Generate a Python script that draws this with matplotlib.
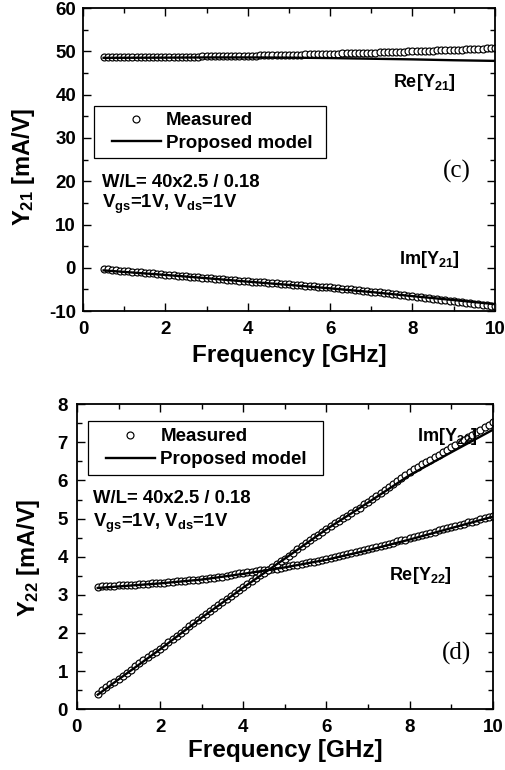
import matplotlib
matplotlib.use("Agg")
import matplotlib.pyplot as plt
from matplotlib.ticker import MultipleLocator
from matplotlib.lines import Line2D
from matplotlib.patches import Rectangle

plt.rcParams['font.family'] = ['Liberation Sans', 'DejaVu Sans']
plt.rcParams['font.weight'] = 'bold'
plt.rcParams['mathtext.fontset'] = 'custom'
plt.rcParams['mathtext.bf'] = 'Liberation Sans:bold'
plt.rcParams['mathtext.rm'] = 'Liberation Sans:bold'
plt.rcParams['mathtext.default'] = 'bf'
plt.rcParams['axes.unicode_minus'] = False

# ---------------- data ----------------
freq = [0.5, 0.6, 0.7, 0.8, 0.9,
        1.0, 1.1, 1.2, 1.3, 1.4, 1.5, 1.6, 1.7, 1.8, 1.9,
        2.0, 2.1, 2.2, 2.3, 2.4, 2.5, 2.6, 2.7, 2.8, 2.9,
        3.0, 3.1, 3.2, 3.3, 3.4, 3.5, 3.6, 3.7, 3.8, 3.9,
        4.0, 4.1, 4.2, 4.3, 4.4, 4.5, 4.6, 4.7, 4.8, 4.9,
        5.0, 5.1, 5.2, 5.3, 5.4, 5.5, 5.6, 5.7, 5.8, 5.9,
        6.0, 6.1, 6.2, 6.3, 6.4, 6.5, 6.6, 6.7, 6.8, 6.9,
        7.0, 7.1, 7.2, 7.3, 7.4, 7.5, 7.6, 7.7, 7.8, 7.9,
        8.0, 8.1, 8.2, 8.3, 8.4, 8.5, 8.6, 8.7, 8.8, 8.9,
        9.0, 9.1, 9.2, 9.3, 9.4, 9.5, 9.6, 9.7, 9.8, 9.9,
        10.0]

re_y21_meas = [48.60, 48.60, 48.61, 48.61, 48.62,
               48.62, 48.63, 48.63, 48.64, 48.65, 48.66, 48.66, 48.67, 48.68, 48.69,
               48.70, 48.71, 48.72, 48.74, 48.75, 48.76, 48.78, 48.79, 48.81, 48.83,
               48.85, 48.86, 48.88, 48.89, 48.91, 48.93, 48.94, 48.96, 48.97, 48.99,
               49.00, 49.02, 49.04, 49.06, 49.08, 49.10, 49.12, 49.14, 49.16, 49.18,
               49.20, 49.22, 49.25, 49.27, 49.30, 49.32, 49.35, 49.37, 49.40, 49.42,
               49.45, 49.47, 49.50, 49.52, 49.55, 49.57, 49.60, 49.62, 49.65, 49.67,
               49.70, 49.73, 49.76, 49.79, 49.82, 49.85, 49.88, 49.91, 49.94, 49.97,
               50.00, 50.03, 50.07, 50.10, 50.14, 50.17, 50.21, 50.24, 50.28, 50.31,
               50.35, 50.39, 50.43, 50.47, 50.51, 50.55, 50.59, 50.63, 50.67, 50.71,
               50.75]

im_y21_meas = [-0.30, -0.38, -0.46, -0.55, -0.63,
               -0.71, -0.79, -0.87, -0.96, -1.04, -1.12, -1.20, -1.29, -1.37, -1.46,
               -1.55, -1.63, -1.71, -1.79, -1.87, -1.94, -2.02, -2.10, -2.18, -2.26,
               -2.33, -2.41, -2.49, -2.56, -2.64, -2.72, -2.80, -2.87, -2.95, -3.03,
               -3.10, -3.17, -3.25, -3.32, -3.39, -3.47, -3.54, -3.61, -3.69, -3.76,
               -3.83, -3.90, -3.98, -4.05, -4.12, -4.19, -4.26, -4.34, -4.41, -4.48,
               -4.55, -4.64, -4.73, -4.82, -4.92, -5.01, -5.10, -5.20, -5.30, -5.40,
               -5.50, -5.59, -5.69, -5.79, -5.89, -5.99, -6.09, -6.19, -6.30, -6.42,
               -6.55, -6.66, -6.78, -6.89, -7.01, -7.12, -7.24, -7.35, -7.47, -7.58,
               -7.70, -7.82, -7.94, -8.06, -8.18, -8.30, -8.42, -8.54, -8.66, -8.78,
               -8.90]

model_freq = [0.5, 1, 2, 3, 4, 5, 6, 7, 8, 9, 10]
re_y21_model = [48.50, 48.52, 48.55, 48.60, 48.60, 48.55, 48.45, 48.30, 48.15, 47.95, 47.80]
im_y21_model = [-0.60, -0.95, -1.65, -2.40, -3.20, -3.95, -4.75, -5.60, -6.55, -7.45, -8.40]

im_y22_meas = [0.41, 0.49, 0.57, 0.65, 0.72,
               0.80, 0.88, 0.96, 1.04, 1.12, 1.20, 1.28, 1.36, 1.44, 1.51,
               1.59, 1.67, 1.75, 1.84, 1.92, 2.00, 2.08, 2.17, 2.25, 2.34,
               2.42, 2.50, 2.58, 2.66, 2.74, 2.82, 2.90, 2.98, 3.05, 3.13,
               3.21, 3.28, 3.36, 3.43, 3.51, 3.58, 3.65, 3.73, 3.80, 3.88,
               3.95, 4.03, 4.11, 4.19, 4.27, 4.35, 4.43, 4.51, 4.58, 4.66,
               4.74, 4.81, 4.88, 4.94, 5.01, 5.08, 5.15, 5.22, 5.29, 5.37,
               5.44, 5.52, 5.60, 5.67, 5.75, 5.83, 5.91, 5.99, 6.06, 6.14,
               6.22, 6.29, 6.35, 6.42, 6.48, 6.55, 6.62, 6.68, 6.75, 6.81,
               6.88, 6.94, 7.01, 7.07, 7.14, 7.20, 7.27, 7.33, 7.40, 7.46,
               7.53]

re_y22_meas = [3.21, 3.22, 3.22, 3.23, 3.24,
               3.25, 3.25, 3.26, 3.27, 3.27, 3.28, 3.29, 3.29, 3.30, 3.31,
               3.32, 3.32, 3.33, 3.34, 3.35, 3.36, 3.37, 3.38, 3.39, 3.40,
               3.41, 3.42, 3.44, 3.45, 3.46, 3.48, 3.50, 3.52, 3.54, 3.56,
               3.58, 3.59, 3.61, 3.62, 3.64, 3.65, 3.66, 3.68, 3.69, 3.71,
               3.73, 3.75, 3.77, 3.79, 3.81, 3.83, 3.85, 3.87, 3.89, 3.92,
               3.95, 3.97, 3.99, 4.02, 4.04, 4.07, 4.10, 4.13, 4.15, 4.18,
               4.21, 4.23, 4.26, 4.29, 4.31, 4.34, 4.37, 4.40, 4.43, 4.45,
               4.48, 4.51, 4.54, 4.57, 4.60, 4.63, 4.66, 4.69, 4.72, 4.75,
               4.78, 4.81, 4.84, 4.87, 4.90, 4.92, 4.95, 4.98, 5.01, 5.04,
               5.06]

re_y22_model = [3.18, 3.22, 3.30, 3.40, 3.55, 3.72, 3.92, 4.17, 4.45, 4.75, 5.05]
im_y22_model = [0.38, 0.78, 1.57, 2.40, 3.19, 3.95, 4.72, 5.42, 6.14, 6.74, 7.33]

x_ticks = [0, 2, 4, 6, 8, 10]
y21_ticks = [-10, 0, 10, 20, 30, 40, 50, 60]
y22_ticks = [0, 1, 2, 3, 4, 5, 6, 7, 8]

# ---------------- figure ----------------
fig = plt.figure(figsize=(5.06, 7.70), dpi=100)
ax1 = fig.add_axes([0.164, 0.596, 0.814, 0.3935])
ax2 = fig.add_axes([0.152, 0.079, 0.822, 0.396])

mk = dict(linestyle='none', marker='o', markersize=5.0, markerfacecolor='white',
          markeredgecolor='black', markeredgewidth=0.85, zorder=2)
ln = dict(color='black', linewidth=1.7, zorder=3)


def style(ax, yticks, yminor, xpad, ypad, ylab, ylab_xy, xlab_y):
    ax.set_xlim(0, 10)
    ax.set_xticks(x_ticks)
    ax.set_yticks(yticks)
    ax.set_ylim(yticks[0], yticks[-1])
    ax.xaxis.set_minor_locator(MultipleLocator(1))
    ax.yaxis.set_minor_locator(MultipleLocator(yminor))
    ax.tick_params(which='both', direction='in', top=True, right=True, width=1.0)
    ax.tick_params(which='major', length=6, labelsize=13.5)
    ax.tick_params(which='minor', length=3.5)
    ax.tick_params(axis='x', which='major', pad=xpad)
    ax.tick_params(axis='y', which='major', pad=ypad)
    for s in ax.spines.values():
        s.set_linewidth(1.3)
    for lab in ax.get_xticklabels() + ax.get_yticklabels():
        lab.set_fontweight('bold')
    ax.set_xlabel('Frequency [GHz]', fontsize=17.5, fontweight='bold')
    ax.xaxis.set_label_coords(0.5, xlab_y)
    ax.set_ylabel(ylab, fontsize=17, fontweight='bold')
    ax.yaxis.set_label_coords(*ylab_xy)


def legend(ax, rect, anchor):
    ax.add_patch(Rectangle((rect[0], rect[1]), rect[2], rect[3], transform=ax.transAxes,
                           facecolor='white', edgecolor='black', linewidth=0.9, zorder=4))
    handles = [Line2D([], [], **mk), Line2D([], [], **ln)]
    leg = ax.legend(handles, ['Measured', 'Proposed model'], loc='center left',
                    bbox_to_anchor=anchor, frameon=False, handlelength=2.6,
                    borderpad=0, borderaxespad=0, labelspacing=0.3, handletextpad=0.3,
                    prop={'weight': 'bold', 'size': 13.5})
    leg.set_zorder(5)


# ---- (c) Y21 ----
ax1.plot(freq, re_y21_meas, **mk)
ax1.plot(freq, im_y21_meas, **mk)
ax1.plot(model_freq, re_y21_model, **ln)
ax1.plot(model_freq, im_y21_model, **ln)
style(ax1, y21_ticks, 5, 7, 5, 'Y$_{21}$ [mA/V]', (-0.112, 0.475), -0.108)
legend(ax1, (0.027, 0.505, 0.563, 0.172), (0.070, 0.591))
ax1.text(8.3, 42.8, 'Re[Y$_{21}$]', fontsize=13, fontweight='bold', ha='center', va='center')
ax1.text(8.4, 1.9, 'Im[Y$_{21}$]', fontsize=13, fontweight='bold', ha='center', va='center')
ax1.text(9.08, 22.2, '(c)', fontsize=18, family='Liberation Serif', fontweight='normal',
         ha='center', va='center')
ax1.text(0.46, 19.6, 'W/L= 40x2.5 / 0.18', fontsize=13.3, fontweight='bold', ha='left', va='center')
ax1.text(0.46, 14.6, 'V$_{gs}$=1V, V$_{ds}$=1V', fontsize=13.3, fontweight='bold', ha='left', va='center')

# ---- (d) Y22 ----
ax2.plot(freq, re_y22_meas, **mk)
ax2.plot(freq, im_y22_meas, **mk)
ax2.plot(model_freq, re_y22_model, **ln)
ax2.plot(model_freq, im_y22_model, **ln)
style(ax2, y22_ticks, 0.5, 7, 6.5, 'Y$_{22}$ [mA/V]', (-0.084, 0.495), -0.098)
legend(ax2, (0.026, 0.767, 0.566, 0.178), (0.070, 0.856))
ax2.text(8.9, 7.15, 'Im[Y$_{22}$]', fontsize=13, fontweight='bold', ha='center', va='center')
ax2.text(8.25, 3.52, 'Re[Y$_{22}$]', fontsize=13, fontweight='bold', ha='center', va='center')
ax2.text(9.13, 1.47, '(d)', fontsize=18, family='Liberation Serif', fontweight='normal',
         ha='center', va='center')
ax2.text(0.39, 5.53, 'W/L= 40x2.5 / 0.18', fontsize=13.3, fontweight='bold', ha='left', va='center')
ax2.text(0.39, 4.88, 'V$_{gs}$=1V, V$_{ds}$=1V', fontsize=13.3, fontweight='bold', ha='left', va='center')

fig.savefig('out.png', dpi=100)
